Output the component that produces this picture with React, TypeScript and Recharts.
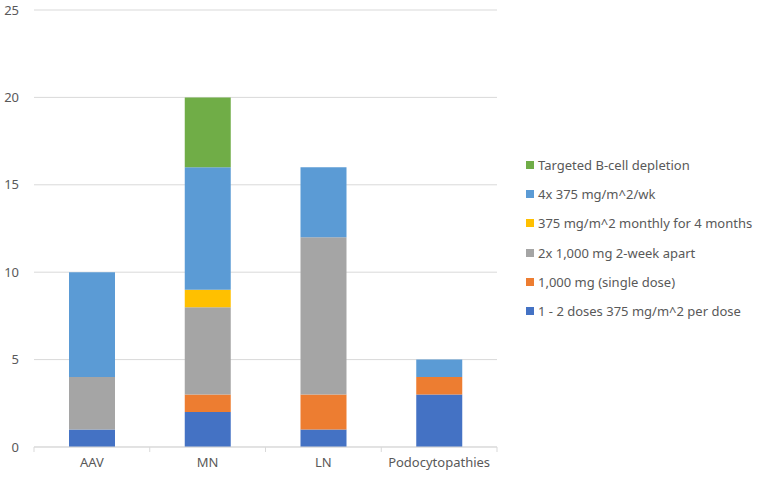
import React from "react";
import {
  BarChart,
  Bar,
  XAxis,
  YAxis,
  CartesianGrid,
} from "recharts";

const categories = ["AAV", "MN", "LN", "Podocytopathies"];

const lowDose375 = [1, 2, 1, 3];
const single1000 = [0, 1, 2, 1];
const twice1000 = [3, 5, 9, 0];
const monthly375 = [0, 1, 0, 0];
const weekly375 = [6, 7, 4, 1];
const targeted = [0, 4, 0, 0];

const yTicks = [0, 5, 10, 15, 20, 25];

const series = [
  { key: "lowDose375", name: "1 - 2 doses 375 mg/m^2 per dose", color: "#4472C4", values: lowDose375 },
  { key: "single1000", name: "1,000 mg (single dose)", color: "#ED7D31", values: single1000 },
  { key: "twice1000", name: "2x 1,000 mg 2-week apart", color: "#A5A5A5", values: twice1000 },
  { key: "monthly375", name: "375 mg/m^2 monthly for 4 months", color: "#FFC000", values: monthly375 },
  { key: "weekly375", name: "4x 375 mg/m^2/wk", color: "#5B9BD5", values: weekly375 },
  { key: "targeted", name: "Targeted B-cell depletion", color: "#70AD47", values: targeted },
];

const data = categories.map((name, i) => {
  const row: Record<string, string | number> = { name };
  series.forEach((s) => {
    row[s.key] = s.values[i];
  });
  return row;
});

const WIDTH = 762;
const HEIGHT = 477;
const LEFT = 34;
const RIGHT = 265;
const BAND = (WIDTH - LEFT - RIGHT) / categories.length;
const TEXT = "#595959";
const GRID = "#d9d9d9";

function CategoryTick(props: any) {
  const { x, y, payload, index } = props;
  const left = x - BAND / 2;
  const right = x + BAND / 2;
  return (
    <g>
      <line x1={left} y1={y} x2={left} y2={y + 5} stroke={GRID} />
      {index === categories.length - 1 && (
        <line x1={right} y1={y} x2={right} y2={y + 5} stroke={GRID} />
      )}
      <text x={x} y={y + 20} textAnchor="middle" fill={TEXT} fontSize={13}>
        {payload.value}
      </text>
    </g>
  );
}

function LegendBox() {
  const items = [...series].reverse();
  return (
    <div style={{ position: "absolute", left: 526, top: 150 }}>
      {items.map((item) => (
        <div
          key={item.key}
          style={{
            height: 29.3,
            display: "flex",
            alignItems: "center",
            color: TEXT,
            fontSize: 13,
            whiteSpace: "nowrap",
          }}
        >
          <span
            style={{
              width: 8,
              height: 8,
              background: item.color,
              display: "inline-block",
              marginRight: 4,
            }}
          />
          {item.name}
        </div>
      ))}
    </div>
  );
}

export default function App() {
  return (
    <div
      style={{
        position: "absolute",
        left: 0,
        top: 0,
        width: WIDTH,
        height: HEIGHT,
        background: "#fff",
        fontFamily: "'Noto Sans', sans-serif",
      }}
    >
      <BarChart
        width={WIDTH}
        height={HEIGHT}
        data={data}
        margin={{ top: 10, right: RIGHT, left: 0, bottom: 0 }}
      >
        <CartesianGrid vertical={false} stroke={GRID} />
        <XAxis
          dataKey="name"
          height={30}
          tickLine={false}
          tickSize={0}
          tickMargin={0}
          stroke={GRID}
          interval={0}
          tick={<CategoryTick />}
        />
        <YAxis
          width={LEFT}
          domain={[0, 25]}
          ticks={yTicks}
          axisLine={false}
          tickLine={false}
          tickSize={0}
          tickMargin={15}
          tick={{ fill: TEXT, fontSize: 13 }}
        />
        {series.map((s) => (
          <Bar
            key={s.key}
            dataKey={s.key}
            name={s.name}
            stackId="a"
            fill={s.color}
            barSize={46}
            isAnimationActive={false}
          />
        ))}
      </BarChart>
      <LegendBox />
    </div>
  );
}
